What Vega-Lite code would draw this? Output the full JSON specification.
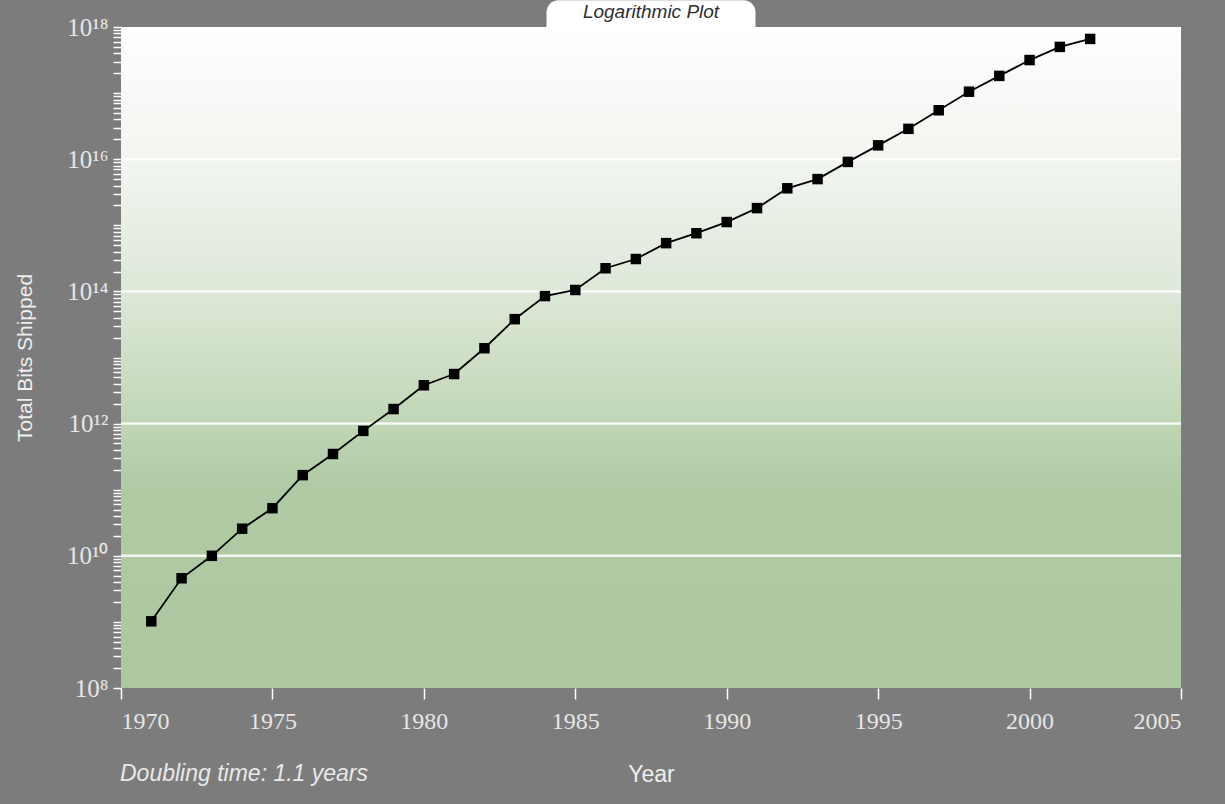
{
  "$schema": "https://vega.github.io/schema/vega-lite/v6.json",
  "width": 1060,
  "height": 661,
  "autosize": "none",
  "padding": {"left": 121, "top": 27, "right": 44, "bottom": 116},
  "background": "#7c7c7c",
  "config": {
    "view": {"stroke": null},
    "axis": {"labelColor": "#e6e6e6", "tickColor": "#ffffff", "titleColor": "#eeeeee", "titleFont": "Liberation Sans", "titleFontWeight": "normal", "labelFont": "Liberation Serif"}
  },
  "datasets": {
    "bg": [{"x0": 1970, "x1": 2005, "y0": 1e8, "y1": 1e18}],
    "tab": [{"x0": 1984.05, "x1": 1990.95, "y0": 1e18, "y1": 2.55e18, "label": "Logarithmic Plot", "mid": 1987.5, "ty": 1.66e18}],
    "grid": [{"g": 1e10}, {"g": 1e12}, {"g": 1e14}, {"g": 1e16}],
    "bits": [
      {"year": 1971, "bits": 1.02e9},
      {"year": 1972, "bits": 4.57e9},
      {"year": 1973, "bits": 1.0e10},
      {"year": 1974, "bits": 2.57e10},
      {"year": 1975, "bits": 5.25e10},
      {"year": 1976, "bits": 1.66e11},
      {"year": 1977, "bits": 3.47e11},
      {"year": 1978, "bits": 7.76e11},
      {"year": 1979, "bits": 1.66e12},
      {"year": 1980, "bits": 3.8e12},
      {"year": 1981, "bits": 5.62e12},
      {"year": 1982, "bits": 1.38e13},
      {"year": 1983, "bits": 3.8e13},
      {"year": 1984, "bits": 8.5e13},
      {"year": 1985, "bits": 1.05e14},
      {"year": 1986, "bits": 2.24e14},
      {"year": 1987, "bits": 3.09e14},
      {"year": 1988, "bits": 5.37e14},
      {"year": 1989, "bits": 7.59e14},
      {"year": 1990, "bits": 1.12e15},
      {"year": 1991, "bits": 1.82e15},
      {"year": 1992, "bits": 3.63e15},
      {"year": 1993, "bits": 5.0e15},
      {"year": 1994, "bits": 9.1e15},
      {"year": 1995, "bits": 1.62e16},
      {"year": 1996, "bits": 2.88e16},
      {"year": 1997, "bits": 5.5e16},
      {"year": 1998, "bits": 1.05e17},
      {"year": 1999, "bits": 1.82e17},
      {"year": 2000, "bits": 3.16e17},
      {"year": 2001, "bits": 5.0e17},
      {"year": 2002, "bits": 6.6e17}
    ],
    "note": [{"year": 1970, "label": "Doubling time: 1.1 years"}]
  },
  "layer": [
    {
      "data": {"name": "bg"},
      "mark": {"type": "rect", "color": {"gradient": "linear", "x1": 0, "y1": 0, "x2": 0, "y2": 1, "stops": [
        {"offset": 0, "color": "#ffffff"},
        {"offset": 0.2, "color": "#f2f5f0"},
        {"offset": 0.4, "color": "#dde8d8"},
        {"offset": 0.58, "color": "#c3d8b9"},
        {"offset": 0.7, "color": "#b0caa4"},
        {"offset": 1, "color": "#adc7a0"}
      ]}},
      "encoding": {
        "x": {"field": "x0", "type": "quantitative", "title": "Year",
          "scale": {"domain": [1970, 2005], "nice": false, "zero": false},
          "axis": {"values": [1970, 1975, 1980, 1985, 1990, 1995, 2000, 2005], "format": "d", "domain": false, "grid": false, "tickSize": 11, "tickWidth": 1.5, "labelFontSize": 24, "labelPadding": 10, "titleFontSize": 23, "titlePadding": 30}},
        "x2": {"field": "x1"},
        "y": {"field": "y0", "type": "quantitative", "title": "Total Bits Shipped",
          "scale": {"type": "log", "domain": [1e8, 1e18], "nice": false},
          "axis": {
            "values": [1e8,2e8,3e8,4e8,5e8,6e8,7e8,8e8,9e8,1e9,2e9,3e9,4e9,5e9,6e9,7e9,8e9,9e9,1e10,2e10,3e10,4e10,5e10,6e10,7e10,8e10,9e10,1e11,2e11,3e11,4e11,5e11,6e11,7e11,8e11,9e11,1e12,2e12,3e12,4e12,5e12,6e12,7e12,8e12,9e12,1e13,2e13,3e13,4e13,5e13,6e13,7e13,8e13,9e13,1e14,2e14,3e14,4e14,5e14,6e14,7e14,8e14,9e14,1e15,2e15,3e15,4e15,5e15,6e15,7e15,8e15,9e15,1e16,2e16,3e16,4e16,5e16,6e16,7e16,8e16,9e16,1e17,2e17,3e17,4e17,5e17,6e17,7e17,8e17,9e17,1e18],
            "labelExpr": "datum.value==1e8?'10⁸':datum.value==1e10?'10¹⁰':datum.value==1e12?'10¹²':datum.value==1e14?'10¹⁴':datum.value==1e16?'10¹⁶':datum.value==1e18?'10¹⁸':''",
            "labelFontSize": 25, "labelPadding": 5, "labelOverlap": false, "labelBound": false,
            "tickSize": 8, "tickWidth": 1.5, "domain": false, "grid": false,
            "titleFontSize": 21, "titlePadding": 31}},
        "y2": {"field": "y1"}
      }
    },
    {
      "data": {"name": "grid"},
      "mark": {"type": "rule", "color": "#ffffff", "strokeWidth": 2.5, "opacity": 0.85},
      "encoding": {
        "y": {"field": "g", "type": "quantitative", "title": "Total Bits Shipped"}
      }
    },
    {
      "data": {"name": "tab"},
      "mark": {"type": "rect", "color": "#ffffff", "clip": false, "cornerRadiusTopLeft": 12, "cornerRadiusTopRight": 12},
      "encoding": {
        "x": {"field": "x0", "type": "quantitative", "title": "Year"},
        "x2": {"field": "x1"},
        "y": {"field": "y0", "type": "quantitative", "title": "Total Bits Shipped"},
        "y2": {"field": "y1"}
      }
    },
    {
      "data": {"name": "tab"},
      "mark": {"type": "text", "align": "center", "baseline": "middle", "font": "Liberation Sans", "fontStyle": "italic", "fontSize": 19, "color": "#2e2e2e", "clip": false},
      "encoding": {
        "x": {"field": "mid", "type": "quantitative", "title": "Year"},
        "y": {"field": "ty", "type": "quantitative", "title": "Total Bits Shipped"},
        "text": {"field": "label"}
      }
    },
    {
      "data": {"name": "bits"},
      "mark": {"type": "line", "color": "#000000", "strokeWidth": 1.8},
      "encoding": {
        "x": {"field": "year", "type": "quantitative", "title": "Year"},
        "y": {"field": "bits", "type": "quantitative", "title": "Total Bits Shipped"}
      }
    },
    {
      "data": {"name": "bits"},
      "mark": {"type": "point", "shape": "square", "filled": true, "color": "#000000", "opacity": 1, "size": 110},
      "encoding": {
        "x": {"field": "year", "type": "quantitative", "title": "Year"},
        "y": {"field": "bits", "type": "quantitative", "title": "Total Bits Shipped"}
      }
    },
    {
      "data": {"name": "note"},
      "mark": {"type": "text", "align": "left", "baseline": "middle", "dy": 86, "dx": -1, "font": "Liberation Sans", "fontStyle": "italic", "fontSize": 23, "color": "#e8e8e8", "clip": false},
      "encoding": {
        "x": {"field": "year", "type": "quantitative", "title": "Year"},
        "y": {"datum": 1e8, "type": "quantitative", "title": "Total Bits Shipped"},
        "text": {"field": "label"}
      }
    }
  ]
}
